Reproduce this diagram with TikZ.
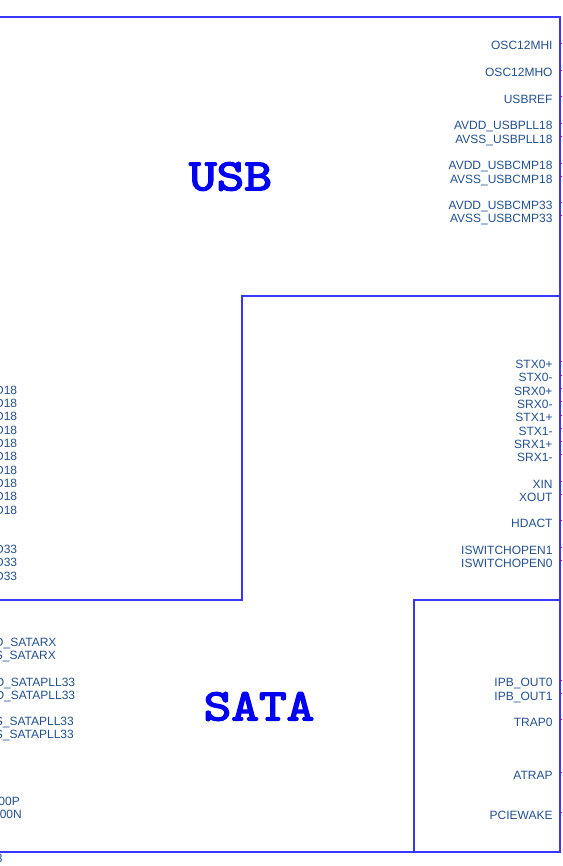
\documentclass[tikz,border=0pt]{standalone}
\usepackage{fontspec}
\setmainfont{Liberation Sans}
\newfontfamily\titlefont{lmmono10-regular}[Extension=.otf, FakeBold=3.2]
\definecolor{boxblue}{RGB}{55,55,255}
\definecolor{pintext}{RGB}{35,80,145}
\definecolor{titleblue}{RGB}{0,0,245}
\definecolor{pinred}{RGB}{240,0,0}
\tikzset{
  boxline/.style={draw=boxblue, line width=1.7pt, line cap=rect},
  pinlabel/.style={anchor=base east, inner sep=0pt, text=pintext, font=\fontsize{12}{12}\selectfont},
  pinstub/.style={draw=pinred, line width=1pt},
  blocktitle/.style={inner sep=0pt, text=titleblue, font=\titlefont\bfseries\fontsize{45}{45}\selectfont}
}
\newcommand{\widetitle}[1]{\scalebox{1.17}[1]{#1}}
\begin{document}
\begin{tikzpicture}[x=1pt,y=-1pt]
\useasboundingbox (0,0) rectangle (562,866);
\clip (0,0) rectangle (562,866);
% outline of the part
\draw[boxline] (0,17.3) -- (559.7,17.3) -- (559.7,851.7) -- (0,851.7);
\draw[boxline] (559.7,295.7) -- (241.7,295.7) -- (241.7,600) -- (0,600);
\draw[boxline] (414,851.7) -- (414,600) -- (559.7,600);
% titles
\node[blocktitle] (usb) at (230.5,176.5) {\widetitle{USB}};
\node[blocktitle] (sata) at (259,706.5) {\widetitle{SATA}};
% right pins
\foreach \y/\t [count=\i] in {
  43.3/OSC12MHI, 70.3/OSC12MHO, 96.7/USBREF,
  123.3/AVDD\_USBPLL18, 136.7/AVSS\_USBPLL18,
  163.3/AVDD\_USBCMP18, 176.7/AVSS\_USBCMP18,
  202.7/AVDD\_USBCMP33, 216/AVSS\_USBCMP33,
  361.7/STX0+, 375/STX0-, 388.3/SRX0+, 401.7/SRX0-,
  415/STX1+, 428.3/STX1-, 441.7/SRX1+, 454.3/SRX1-,
  481.3/XIN, 494.3/XOUT, 520.7/HDACT,
  547.3/ISWITCHOPEN1, 560.7/ISWITCHOPEN0,
  680/IPB\_OUT0, 693.3/IPB\_OUT1, 719.3/TRAP0,
  772.7/ATRAP, 812.3/PCIEWAKE} {
  \node[pinlabel] (r\i) at (552.7,{\y+6.7}) {\t};
  \coordinate (ra\i) at (560.5,\y);
  \coordinate (rb\i) at (566,\y);
  \draw[pinstub] (ra\i) -- (rb\i);
}
% left labels (cut by the frame)
\foreach \b [count=\i] in {394,407.3,420.7,434,447.3,460.7,474,487.3,500.7,514} {
  \node[pinlabel] (ld\i) at (17.3,\b) {D18};
}
\foreach \b [count=\i] in {553.3,566.7,580} {
  \node[pinlabel] (le\i) at (17.3,\b) {D33};
}
\node[pinlabel] (s1) at (56.7,646.7) {D\_SATARX};
\node[pinlabel] (s2) at (56,659.3) {S\_SATARX};
\node[pinlabel] (s3) at (75.3,686.7) {D\_SATAPLL33};
\node[pinlabel] (s4) at (75.3,699.3) {D\_SATAPLL33};
\node[pinlabel] (s5) at (74,725.3) {S\_SATAPLL33};
\node[pinlabel] (s6) at (74,738.7) {S\_SATAPLL33};
\node[pinlabel] (s7) at (20,805.3) {00P};
\node[pinlabel] (s8) at (22,818) {00N};
\node[pinlabel] (s9) at (2.8,862.5) {3};
\end{tikzpicture}
\end{document}
